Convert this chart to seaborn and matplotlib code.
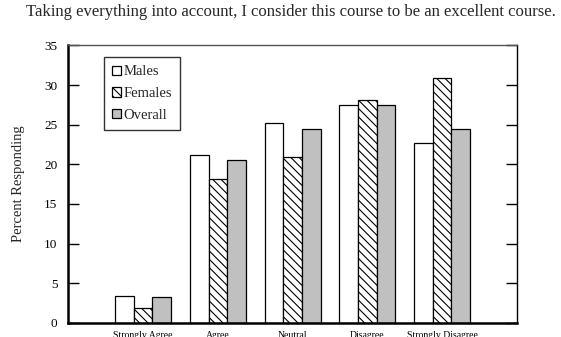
import numpy as np
import pandas as pd
import matplotlib
matplotlib.use("Agg")
import matplotlib.pyplot as plt
import seaborn as sns

# Survey responses, percent of each group
responses = ["Strongly Agree", "Agree", "Neutral", "Disagree", "Strongly Disagree"]
groups = ["Males", "Females", "Overall"]
males = [3.4, 21.2, 25.2, 27.5, 22.7]
females = [1.9, 18.2, 20.9, 28.1, 30.9]
overall = [3.2, 20.5, 24.4, 27.5, 24.4]
y_ticks = [0, 5, 10, 15, 20, 25, 30, 35]

title = "Taking everything into account, I consider this course to be an excellent course."

df = pd.DataFrame({
    "response": responses * 3,
    "percent": males + females + overall,
    "group": [g for g in groups for _ in responses],
})

sns.set_theme(style="white")
plt.rcParams["font.family"] = ["Liberation Serif", "DejaVu Serif"]
plt.rcParams["hatch.linewidth"] = 0.8

fig = plt.figure(figsize=(5.61, 3.37), dpi=100)
ax = fig.add_axes([0.122, 0.0424, 0.799, 0.8226])

sns.barplot(
    data=df, x="response", y="percent", hue="group",
    order=responses, hue_order=groups,
    palette=["white", "white", "#c0c0c0"],
    edgecolor="black", linewidth=0.9, width=0.75,
    saturation=1, ax=ax,
)

# diagonal hatching for the Females series
for bar in ax.containers[1]:
    bar.set_hatch("\\\\\\\\")

ax.set_xlim(-1, 5)
ax.set_ylim(0, 35)
ax.set_yticks(y_ticks)
ax.set_yticklabels([str(t) for t in y_ticks], fontsize=9.5)
ax.set_xlabel("")
ax.set_ylabel("Percent Responding", fontsize=10.5, labelpad=14)

ax.tick_params(axis="y", which="both", direction="in", length=8, width=1,
               left=True, right=True, pad=8, colors="black")
ax.tick_params(axis="x", length=0, pad=6, labelsize=7, colors="black")

for side, lw, col in [("left", 1.8, "black"), ("bottom", 1.8, "black"),
                      ("right", 1.0, "black"), ("top", 1.0, "#555555")]:
    ax.spines[side].set_visible(True)
    ax.spines[side].set_linewidth(lw)
    ax.spines[side].set_color(col)

handles = [c.patches[0] for c in ax.containers]
leg = ax.legend(
    handles, groups, loc="upper left", bbox_to_anchor=(0.080, 0.957),
    borderaxespad=0, fontsize=10.5, frameon=True, fancybox=False,
    handlelength=0.6, handleheight=0.6, handletextpad=0.15,
    labelspacing=0.6, borderpad=0.55,
)
leg.get_frame().set_edgecolor("black")
leg.get_frame().set_linewidth(1.0)

fig.text(0.518, 1 - 12 / 337, title, ha="center", va="center", fontsize=12)

fig.savefig("out.png", dpi=100)
